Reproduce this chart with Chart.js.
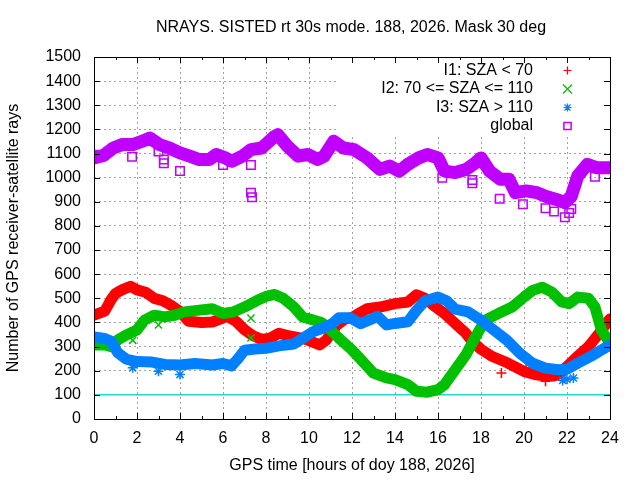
<!DOCTYPE html>
<html><head><meta charset="utf-8">
<script src="https://cdn.jsdelivr.net/npm/chart.js@4.4.0/dist/chart.umd.min.js"></script>
<style>html,body{margin:0;padding:0;background:#fff;}canvas{display:block;}</style>
</head><body>
<canvas id="c" width="640" height="480"></canvas>
<script>
const chartTitle = "NRAYS. SISTED rt 30s mode. 188, 2026. Mask 30 deg";
const xTitle = "GPS time [hours of doy 188, 2026]";
const yTitle = "Number of GPS receiver-satellite rays";
const seriesNames = ["I1: SZA < 70", "I2: 70 <= SZA <= 110", "I3: SZA > 110", "global"];
const refLevel = 100;

const i1Hours = [0,0.5,0.8,1.0,1.3,1.7,2.0,2.4,2.8,3.2,3.6,4.0,4.4,5.0,5.5,5.9,6.2,6.6,7.0,7.4,7.8,8.2,8.6,9.1,9.7,10.0,10.5,10.8,11.3,11.7,12.0,12.3,12.7,13.3,14.0,14.6,15.0,15.4,15.8,16.3,16.8,17.3,17.6,18.0,18.5,19.2,20.0,20.5,21.0,21.4,21.7,22.0,22.4,23.0,23.5,24.0];
const i1Rays  = [430,447,495,520,535,550,535,525,500,490,470,445,405,400,402,415,425,405,370,345,330,335,355,344,334,325,307,327,390,415,420,437,457,464,478,485,515,500,470,437,396,355,320,289,260,234,197,184,178,178,190,218,252,300,355,415];

const i2Hours = [0,0.5,0.8,1.1,1.5,2.0,2.35,2.8,3.3,3.75,4.2,4.8,5.5,6.0,6.5,7.0,7.6,8.0,8.4,8.8,9.3,9.7,10.2,10.6,11.0,11.4,12.0,12.5,13.0,13.6,14.0,14.6,15.0,15.5,16.0,16.3,16.8,17.3,17.75,18.2,18.8,19.45,20.0,20.4,20.85,21.3,21.75,22.1,22.5,23.0,23.3,23.6,23.85,24.0];
const i2Rays  = [307,307,300,327,348,369,410,430,423,430,444,450,457,437,444,464,492,508,516,500,464,423,410,399,369,334,286,238,190,170,163,142,115,111,122,142,204,266,341,410,437,464,505,533,546,526,485,478,505,500,464,369,334,310];

const i3Hours = [0,0.5,0.8,1.1,1.5,2.0,2.7,3.3,4.0,4.7,5.5,6.0,6.4,6.7,7.0,7.5,8.0,8.6,9.3,9.7,10.2,10.6,11.1,11.4,11.9,12.4,13.2,13.6,14.0,14.6,15.0,15.4,16.0,16.4,16.8,17.4,18.0,18.5,19.2,19.8,20.4,21.0,21.6,22.0,22.5,23.1,23.6,24.0];
const i3Rays  = [340,334,322,275,248,238,236,226,224,230,224,230,220,250,285,290,293,303,311,334,362,375,396,420,420,395,425,390,396,403,450,490,505,490,455,444,410,375,327,273,231,211,204,206,231,259,286,306];

const globalHours = [0,0.45,0.9,1.3,1.8,2.25,2.6,3.05,3.5,4.0,4.45,4.9,5.35,5.7,6.1,6.4,6.9,7.3,7.8,8.4,8.55,9.0,9.5,9.95,10.4,10.7,11.15,11.6,12.1,12.7,13.3,13.75,14.2,14.6,15.1,15.5,16.0,16.3,16.8,17.3,17.75,18.0,18.4,18.9,19.3,19.6,20.1,20.6,21.0,21.5,21.9,22.2,22.5,22.95,23.4,24.0];
const globalRays  = [1082,1092,1123,1137,1137,1151,1164,1137,1123,1103,1089,1075,1075,1096,1082,1068,1089,1116,1123,1171,1178,1130,1089,1096,1075,1089,1151,1123,1116,1082,1034,1048,1027,1055,1082,1096,1082,1027,1021,1034,1062,1082,1027,993,993,938,945,938,923,910,897,923,1007,1055,1041,1041];

const i1OutHours = [18.95,21.0,20.1];
const i1OutRays  = [191,156,210];
const i2OutHours = [1.8,3.0,7.3,7.3];
const i2OutRays  = [326,390,418,336];
const i3OutHours = [1.8,3.0,4.0,21.8,22.0,22.3];
const i3OutRays  = [212,198,184,160,165,170];
const globalOutHours = [0.2,1.77,3.0,3.25,3.25,4.0,6.0,7.3,7.3,7.35,16.2,17.6,17.6,18.87,19.95,21.0,21.4,21.9,22.1,22.2,23.3];
const globalOutRays  = [1095,1087,1108,1075,1060,1028,1052,1052,938,919,1000,990,977,913,890,873,860,836,854,870,1004];

const xTicks = [0,2,4,6,8,10,12,14,16,18,20,22,24];

const colors = ['#ff0000','#00c000','#0080ff','#c000ff'];
const styles = ['cross','crossRot','star','rect'];
const refColor = '#20d8d8';
const FONT = "'Liberation Sans', Arial, sans-serif";

function pts(xs, ys){ return xs.map((x,k)=>({x:x, y:ys[k]})); }

function band(idx, xs, ys, width, order){
  return {data: pts(xs,ys), borderColor: colors[idx], backgroundColor: 'rgba(0,0,0,0)',
    borderWidth: width, pointStyle: styles[idx], pointRadius: idx===3?5:4, pointBorderWidth: 2,
    pointBorderColor: colors[idx], pointBackgroundColor:'rgba(0,0,0,0)',
    borderJoinStyle:'round', borderCapStyle:'round', tension: 0, order: order};
}
function outl(idx, xs, ys, order){
  return {data: pts(xs,ys), showLine:false, borderColor: colors[idx], backgroundColor:'rgba(0,0,0,0)',
    pointStyle: styles[idx], pointRadius: idx===3?6:5, pointBorderWidth: 1.5,
    pointBorderColor: colors[idx], pointBackgroundColor:'rgba(0,0,0,0)', order: order};
}

function marker(ctx, style, x, y, r){
  ctx.beginPath();
  if (style==='cross' || style==='star'){ ctx.moveTo(x-r,y); ctx.lineTo(x+r,y); ctx.moveTo(x,y-r); ctx.lineTo(x,y+r); }
  if (style==='crossRot' || style==='star'){ const d=(style==='star')?r*0.75:r; ctx.moveTo(x-d,y-d); ctx.lineTo(x+d,y+d); ctx.moveTo(x-d,y+d); ctx.lineTo(x+d,y-d); }
  if (style==='rect'){ ctx.rect(x-r*0.9,y-r*0.9,r*1.8,r*1.8); }
  ctx.stroke();
}

const gnuFrame = {
  id: 'gnuFrame',
  beforeDatasetsDraw(chart){
    const ctx = chart.ctx, a = chart.chartArea;
    ctx.save(); ctx.fillStyle = '#fff';
    ctx.fillRect(338, a.top+1, a.right-1-338, 137-a.top-1);
    ctx.restore();
  },
  afterDraw(chart){
    const ctx = chart.ctx, a = chart.chartArea, xs = chart.scales.x, ys = chart.scales.y;
    ctx.save();
    ctx.strokeStyle = '#000'; ctx.lineWidth = 1;
    ctx.strokeRect(Math.round(a.left)+0.5, Math.round(a.top)+0.5, Math.round(a.right-a.left), Math.round(a.bottom-a.top));
    ctx.beginPath();
    for (let h=0; h<=24; h++){
      const px = Math.round(xs.getPixelForValue(h))+0.5, L = (h%2===0)?6:3;
      ctx.moveTo(px, a.bottom); ctx.lineTo(px, a.bottom-L);
      ctx.moveTo(px, a.top); ctx.lineTo(px, a.top+L);
    }
    for (let v=0; v<=1500; v+=100){
      const py = Math.round(ys.getPixelForValue(v))+0.5;
      ctx.moveTo(a.left, py); ctx.lineTo(a.left+6, py);
      ctx.moveTo(a.right, py); ctx.lineTo(a.right-6, py);
    }
    ctx.stroke();
    ctx.fillStyle = '#000';
    ctx.font = '16px ' + FONT;
    ctx.textAlign = 'center'; ctx.textBaseline = 'middle';
    ctx.fillText(chartTitle, 351, 28);
    ctx.fillText(xTitle, 352, 466);
    ctx.save(); ctx.translate(14, 238); ctx.rotate(-Math.PI/2); ctx.fillText(yTitle, 0, 0); ctx.restore();
    const rows = [70.5, 89, 107.5, 126];
    ctx.textAlign = 'right';
    for (let k=0;k<4;k++){
      ctx.fillStyle = '#000';
      ctx.fillText(seriesNames[k], 533, rows[k]);
      ctx.strokeStyle = colors[k]; ctx.lineWidth = k===3?1.5:1.2;
      marker(ctx, styles[k], 567.5, rows[k], k===1?4.5:4);
    }
    ctx.restore();
  }
};

Chart.defaults.font.family = FONT;
Chart.defaults.font.size = 16;
Chart.defaults.color = '#000';

new Chart(document.getElementById('c'), {
  type: 'line',
  data: { datasets: [
    {data: [{x:0,y:refLevel},{x:24,y:refLevel}], borderColor: refColor, borderWidth: 1.5, pointRadius: 0, order: 20},
    band(0, i1Hours, i1Rays, 11, 9), outl(0, i1OutHours, i1OutRays, 9),
    band(1, i2Hours, i2Rays, 11, 8), outl(1, i2OutHours, i2OutRays, 8),
    band(2, i3Hours, i3Rays, 11, 7), outl(2, i3OutHours, i3OutRays, 7),
    band(3, globalHours, globalRays, 13, 6), outl(3, globalOutHours, globalOutRays, 6)
  ]},
  options: {
    responsive: false, animation: false,
    layout: { padding: {top: 57, right: 30, bottom: 0, left: 0} },
    plugins: { legend: {display:false}, tooltip: {enabled:false}, title: {display:false} },
    scales: {
      x: { type:'linear', min:0, max:24,
        afterBuildTicks: s => { s.ticks = xTicks.map(v=>({value:v})); },
        afterFit: s => { s.height = 61; },
        ticks: { padding: 10, maxRotation: 0, autoSkip: false, callback: v => String(v) },
        grid: { color:'#a0a0a0', lineWidth:1, drawTicks:false },
        border: { display:false, dash:[2,3] } },
      y: { min:0, max:1500,
        afterFit: s => { s.width = 94; },
        ticks: { stepSize:100, padding: 13, callback: v => String(v) },
        grid: { color:'#a0a0a0', lineWidth:1, drawTicks:false },
        border: { display:false, dash:[2,3] } }
    }
  },
  plugins: [gnuFrame]
});
</script>
</body></html>
